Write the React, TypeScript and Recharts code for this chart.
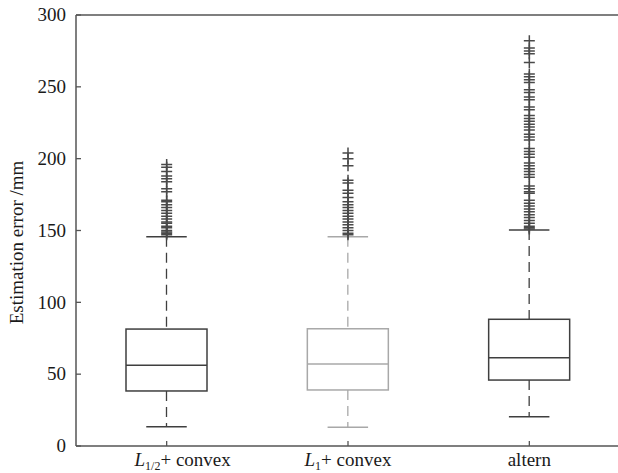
import React from 'react';
import { ComposedChart, Bar, Scatter, XAxis, YAxis } from 'recharts';

// ---- data ----
const categories = ['L1/2+convex', 'L1+convex', 'altern'];
const whiskerLow = [13.4, 13.0, 20.4];
const q1 = [38.3, 39.0, 45.9];
const median = [56.2, 57.0, 61.5];
const q3 = [81.4, 81.6, 88.2];
const whiskerHigh = [145.7, 145.7, 150.3];
const outliersA = [196, 194, 191, 188, 186, 184, 179, 177, 171, 170, 168, 166, 164, 162, 160, 158, 156, 155, 153, 152, 150, 149, 148, 147];
const outliersB = [204, 200, 195, 185, 183, 178, 176, 173, 170, 168, 166, 164, 162, 160, 158, 156, 154, 152, 150, 148, 147];
const outliersC = [282, 277, 275, 273, 267, 259, 257, 255, 253, 248, 246, 243, 241, 236, 234, 230, 228, 226, 224, 222, 220, 217, 215, 213, 207, 205, 203, 201, 197, 195, 193, 191, 189, 187, 181, 179, 177, 176, 171, 169, 167, 165, 163, 161, 159, 157, 155, 153, 152, 151];
const yTicks = [0, 50, 100, 150, 200, 250, 300];

// ---- styles ----
const boxColors = ['#3f3f3f', '#a8a8a8', '#3f3f3f'];
const AXIS = '#555';
const FONT = '"Liberation Serif", "Times New Roman", serif';

const boxData = categories.map((cat, i) => ({
  cat,
  idx: i,
  range: [whiskerLow[i], whiskerHigh[i]],
  lo: whiskerLow[i],
  q1: q1[i],
  med: median[i],
  q3: q3[i],
  hi: whiskerHigh[i],
}));

const outlierData = [
  ...outliersA.map((v) => ({ cat: categories[0], v })),
  ...outliersB.map((v) => ({ cat: categories[1], v })),
  ...outliersC.map((v) => ({ cat: categories[2], v })),
];

const BoxShape = (props: any) => {
  const { x, y, width, height, payload } = props;
  const top = Math.min(y, y + height);
  const bot = Math.max(y, y + height);
  const { lo, hi, idx } = payload;
  const k = (bot - top) / (hi - lo);
  const py = (v: number) => bot - (v - lo) * k;
  const cx = x + width / 2;
  const c = boxColors[idx];
  const capHalf = width / 4;
  return (
    <g>
      <line x1={cx} x2={cx} y1={py(hi)} y2={py(payload.q3)} stroke={c} strokeWidth={1.3} strokeDasharray="10 6" />
      <line x1={cx} x2={cx} y1={py(payload.q1)} y2={py(lo)} stroke={c} strokeWidth={1.3} strokeDasharray="10 6" />
      <line x1={cx - capHalf} x2={cx + capHalf} y1={py(hi)} y2={py(hi)} stroke={c} strokeWidth={1.5} />
      <line x1={cx - capHalf} x2={cx + capHalf} y1={py(lo)} y2={py(lo)} stroke={c} strokeWidth={1.5} />
      <rect x={x} y={py(payload.q3)} width={width} height={py(payload.q1) - py(payload.q3)} fill="none" stroke={c} strokeWidth={1.5} />
      <line x1={x} x2={x + width} y1={py(payload.med)} y2={py(payload.med)} stroke={c} strokeWidth={1.5} />
    </g>
  );
};

const PlusShape = (props: any) => {
  const { cx, cy } = props;
  if (cx == null || cy == null) return <g />;
  return <path d={`M${cx - 5.5},${cy}h11M${cx},${cy - 5.5}v11`} stroke="#4a4a4a" strokeWidth={1.5} fill="none" />;
};

const YTick = (props: any) => {
  const { x, y, payload } = props;
  return (
    <text x={x} y={y} dy="0.33em" textAnchor="end" fontFamily={FONT} fontSize={19} fill="#1a1a1a">
      {payload.value}
    </text>
  );
};

const XTick = (props: any) => {
  const { x, y, payload } = props;
  const ty = y + 23;
  const common = { fontFamily: FONT, fontSize: 19, fill: '#1a1a1a' } as any;
  if (payload.value === categories[0]) {
    return (
      <text x={x + 16} y={ty} textAnchor="middle" {...common}>
        <tspan fontStyle="italic">L</tspan>
        <tspan fontSize={12} dy={4}>1/2</tspan>
        <tspan dy={-4}>+ convex</tspan>
      </text>
    );
  }
  if (payload.value === categories[1]) {
    return (
      <text x={x} y={ty} textAnchor="middle" {...common}>
        <tspan fontStyle="italic">L</tspan>
        <tspan fontSize={12} dy={4}>1</tspan>
        <tspan dy={-4}>+ convex</tspan>
      </text>
    );
  }
  return (
    <text x={x} y={ty} textAnchor="middle" {...common}>
      {payload.value}
    </text>
  );
};

const YLabel = (props: any) => {
  const { viewBox } = props;
  const cy = viewBox.y + viewBox.height / 2 + 12;
  const lx = 23;
  return (
    <text x={lx} y={cy} transform={`rotate(-90 ${lx} ${cy})`} textAnchor="middle" fontFamily={FONT} fontSize={19} fill="#1a1a1a">
      Estimation error /mm
    </text>
  );
};

export default function App() {
  return (
    <div style={{ position: 'absolute', left: 0, top: 0, width: 618, height: 473, overflow: 'hidden', background: '#fff' }}>
      <ComposedChart width={624} height={473} data={boxData} margin={{ top: 14, right: 2, bottom: 0, left: 0 }}>
        <XAxis
          xAxisId="bottom"
          dataKey="cat"
          type="category"
          allowDuplicatedCategory={false}
          orientation="bottom"
          height={27}
          tickSize={-5}
          tickMargin={2}
          tick={<XTick />}
          axisLine={{ stroke: AXIS, strokeWidth: 1.5 }}
          tickLine={{ stroke: AXIS, strokeWidth: 1.3 }}
          interval={0}
        />
        <XAxis
          xAxisId="top"
          dataKey="cat"
          type="category"
          allowDuplicatedCategory={false}
          orientation="top"
          height={1}
          tickSize={-5}
          tick={false}
          axisLine={{ stroke: AXIS, strokeWidth: 1.5 }}
          tickLine={{ stroke: AXIS, strokeWidth: 1.3 }}
          interval={0}
        />
        <YAxis
          yAxisId="left"
          type="number"
          domain={[0, 300]}
          ticks={yTicks}
          width={76}
          tickSize={-5}
          tickMargin={15}
          tick={<YTick />}
          axisLine={{ stroke: AXIS, strokeWidth: 1.5 }}
          tickLine={{ stroke: AXIS, strokeWidth: 1.3 }}
          interval={0}
          label={<YLabel />}
        />
        <YAxis
          yAxisId="right"
          orientation="right"
          type="number"
          domain={[0, 300]}
          ticks={yTicks}
          width={2}
          tickSize={-5}
          tick={false}
          axisLine={{ stroke: AXIS, strokeWidth: 1.5 }}
          tickLine={{ stroke: AXIS, strokeWidth: 1.3 }}
          interval={0}
        />
        <Bar xAxisId="bottom" yAxisId="left" dataKey="range" barSize={81} shape={<BoxShape />} isAnimationActive={false} />
        <Scatter xAxisId="bottom" yAxisId="left" data={outlierData} dataKey="v" shape={<PlusShape />} isAnimationActive={false} />
      </ComposedChart>
    </div>
  );
}
